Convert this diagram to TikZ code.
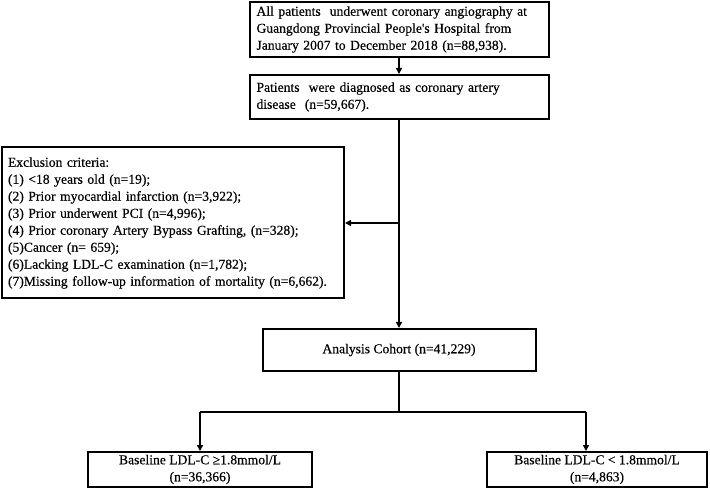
\documentclass[tikz,border=0pt]{standalone}
\usepackage{fontspec}
\setmainfont{Liberation Serif}[FakeBold=0.4]
\newfontfamily\plainq{Liberation Serif}[FakeBold=0.4]
\usetikzlibrary{arrows.meta}
\begin{document}
\begin{tikzpicture}[x=1pt,y=-1pt,
  box/.style={draw,line width=2pt,inner xsep=6pt,inner ysep=0pt,font=\fontsize{13.6}{17}\selectfont},
  conn/.style={line width=2pt},
  arr/.style={line width=2pt,-{Triangle[length=6pt,width=6pt]}}]
\useasboundingbox (0,0) rectangle (710,489);
\node[box,minimum width=299,minimum height=55,text width=285,align=left] (b1) at (399,29.5)
  {All patients\ \ underwent coronary angiography at\\Guangdong Provincial People{\plainq'}s Hospital from\\January 2007 to December 2018 (n=88,938).};
\node[box,minimum width=299,minimum height=44,text width=285,align=left] (b2) at (399,97)
  {Patients\ \ were diagnosed as coronary artery\\disease\ \ (n=59,667).};
\node[box,minimum width=342,minimum height=151,text width=330,align=left] (ex) at (173,223)
  {Exclusion criteria:\\(1) <18 years old (n=19);\\(2) Prior myocardial infarction (n=3,922);\\(3) Prior underwent PCI (n=4,996);\\(4) Prior coronary Artery Bypass Grafting, (n=328);\\(5)Cancer (n= 659);\\(6)Lacking LDL-C examination (n=1,782);\\(7)Missing follow-up information of mortality (n=6,662).};
\node[box,minimum width=273,minimum height=42,align=center] (ac) at (399,350)
  {Analysis Cohort (n=41,229)};
\node[box,minimum width=224,minimum height=35,align=center] (lb) at (200,469.5)
  {Baseline LDL-C ≥1.8mmol/L\\(n=36,366)};
\node[box,minimum width=220,minimum height=35,align=center] (rb) at (597,469.5)
  {Baseline LDL-C < 1.8mmol/L\\(n=4,863)};
\coordinate (ej) at (b2.south |- ex.east);
\coordinate (bj) at (399,412);
\coordinate (lj) at (200,412);
\coordinate (rj) at (586,412);
\draw[arr] (b1.south) -- (b2.north);
\draw[arr] (b2.south) -- (ac.north);
\draw[arr] (ej) -- (ex.east);
\draw[conn] (ac.south) -- (bj);
\draw[conn] (lj) -- (rj);
\draw[arr] (lj) -- (lj |- lb.north);
\draw[arr] (rj) -- (rj |- rb.north);
\end{tikzpicture}
\end{document}
